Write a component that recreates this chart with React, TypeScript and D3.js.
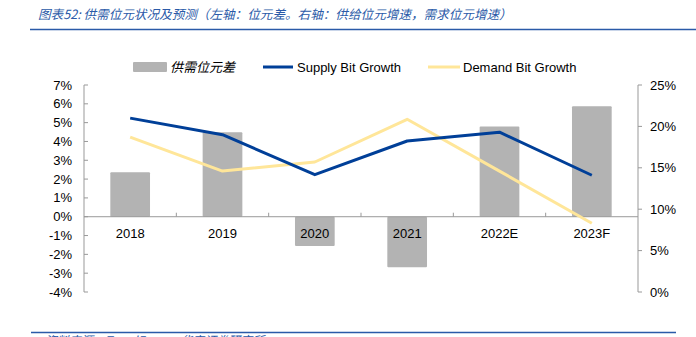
import React from "react";
import * as d3 from "d3";

const categories = ["2018", "2019", "2020", "2021", "2022E", "2023F"];
const gapValues = [0.0236, 0.0449, -0.0156, -0.0269, 0.0479, 0.0587];
const supplyGrowth = [0.21, 0.19, 0.1417, 0.1824, 0.193, 0.141];
const demandGrowth = [0.187, 0.146, 0.157, 0.2086, 0.146, 0.083];
const leftTicks = [-0.04, -0.03, -0.02, -0.01, 0, 0.01, 0.02, 0.03, 0.04, 0.05, 0.06, 0.07];
const rightTicks = [0, 0.05, 0.1, 0.15, 0.2, 0.25];

const W = 696;
const H = 337;
const L = 84;
const R = 638;
const T = 85;
const B = 292;
const FONT = "'Liberation Sans', Arial, sans-serif";

export default function App() {
  const x = d3.scaleBand<string>().domain(categories).range([L, R]).padding(0);
  const yL = d3.scaleLinear().domain([-0.04, 0.07]).range([B, T]);
  const yR = d3.scaleLinear().domain([0, 0.25]).range([B, T]);
  const bw = x.bandwidth() * 0.43;
  const cx = (c: string) => (x(c) as number) + x.bandwidth() / 2;
  const pct = (v: number) => d3.format(".0%")(v).replace("\u2212", "-");

  const supplyLine = d3
    .line<number>()
    .x((_, i) => cx(categories[i]))
    .y((d) => yR(d));
  const demandLine = d3
    .line<number>()
    .x((_, i) => cx(categories[i]))
    .y((d) => yR(d));

  const y0 = yL(0);

  return (
    <svg
      width={W}
      height={H}
      style={{ position: "absolute", left: 0, top: 0, background: "#fff" }}
    >
      <text
        x={38}
        y={19}
        fontSize={12.6}
        fontStyle="italic"
        fill="#2a5aa8"
        fontFamily="'Noto Sans CJK SC', sans-serif"
      >
        图表52: 供需位元状况及预测（左轴：位元差。右轴：供给位元增速，需求位元增速）
      </text>
      <line x1={30} x2={696} y1={29.5} y2={29.5} stroke="#2a5aa8" strokeWidth={1.5} />
      <line x1={31} x2={676} y1={332.5} y2={332.5} stroke="#2a5aa8" strokeWidth={1.5} />
      <text
        x={45}
        y={345}
        fontSize={12}
        fontStyle="italic"
        fill="#2a5aa8"
        fontFamily="'Noto Sans CJK SC', sans-serif"
      >
        资料来源：TrendForce，华安证券研究所
      </text>

      {/* bars */}
      {categories.map((c, i) => {
        const v = gapValues[i];
        const yTop = v >= 0 ? yL(v) : y0;
        const h = Math.abs(yL(v) - y0);
        return (
          <rect
            key={c}
            x={cx(c) - bw / 2}
            y={yTop}
            width={bw}
            height={h}
            fill="#b3b3b3"
            rx={1}
          />
        );
      })}

      {/* category axis */}
      <line x1={L} x2={R} y1={y0} y2={y0} stroke="#999" strokeWidth={1} />
      {categories.slice(1).map((c) => (
        <line
          key={"t" + c}
          x1={x(c) as number}
          x2={x(c) as number}
          y1={y0}
          y2={y0 - 4}
          stroke="#999"
        />
      ))}
      {categories.map((c) => (
        <text
          key={"l" + c}
          x={cx(c)}
          y={238}
          textAnchor="middle"
          fontSize={13}
          fontFamily={FONT}
          fill="#000"
        >
          {c}
        </text>
      ))}

      {/* left axis */}
      <line x1={L} x2={L} y1={T} y2={B} stroke="#999" />
      {leftTicks.map((t) => (
        <g key={"lt" + t}>
          <line x1={L} x2={L + 4} y1={yL(t)} y2={yL(t)} stroke="#999" />
          <text
            x={72}
            y={yL(t)}
            dy="0.35em"
            textAnchor="end"
            fontSize={13}
            fontFamily={FONT}
            fill="#000"
          >
            {pct(t)}
          </text>
        </g>
      ))}

      {/* right axis */}
      <line x1={R} x2={R} y1={T} y2={B} stroke="#999" />
      {rightTicks.map((t) => (
        <g key={"rt" + t}>
          <line x1={R} x2={R + 4} y1={yR(t)} y2={yR(t)} stroke="#999" />
          <text
            x={650}
            y={yR(t)}
            dy="0.35em"
            textAnchor="start"
            fontSize={13}
            fontFamily={FONT}
            fill="#000"
          >
            {pct(t)}
          </text>
        </g>
      ))}

      {/* lines */}
      <path
        d={demandLine(demandGrowth) as string}
        fill="none"
        stroke="#ffe699"
        strokeWidth={3}
        strokeLinejoin="round"
      />
      <path
        d={supplyLine(supplyGrowth) as string}
        fill="none"
        stroke="#003f98"
        strokeWidth={3}
        strokeLinejoin="round"
      />

      {/* legend */}
      <rect x={133} y={62} width={34} height={10} fill="#b3b3b3" rx={1} />
      <text x={170} y={67} dy="0.35em" fontSize={13} fontFamily="'Noto Sans CJK SC', sans-serif" fontStyle="italic" fill="#000">
        供需位元差
      </text>
      <line x1={263} x2={293} y1={67} y2={67} stroke="#003f98" strokeWidth={3} />
      <text x={297} y={67} dy="0.35em" fontSize={13} fontFamily={FONT} fill="#000">
        Supply Bit Growth
      </text>
      <line x1={428} x2={460} y1={67} y2={67} stroke="#ffe699" strokeWidth={3} />
      <text x={463} y={67} dy="0.35em" fontSize={13} fontFamily={FONT} fill="#000">
        Demand Bit Growth
      </text>
    </svg>
  );
}
